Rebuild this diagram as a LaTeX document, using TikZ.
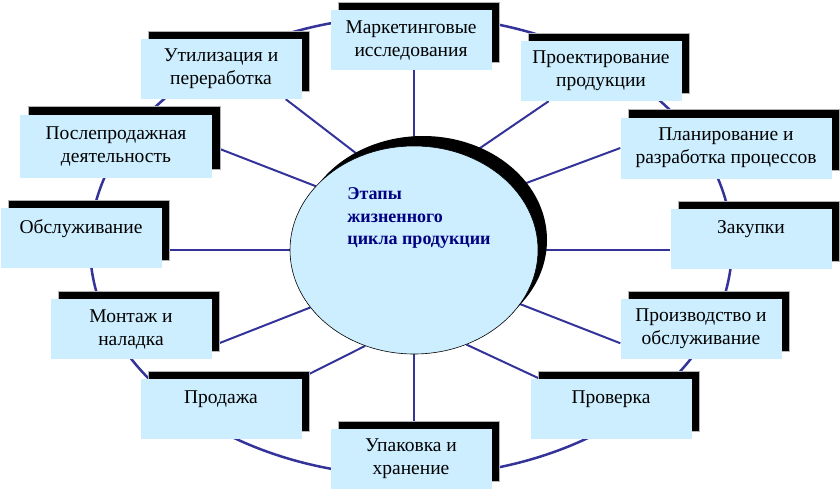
\documentclass[tikz,border=0pt]{standalone}
\usepackage{fontspec}
\setmainfont{Liberation Serif}
\usetikzlibrary{shapes.geometric,shadows,backgrounds}
\definecolor{cellblue}{RGB}{204,238,255}
\definecolor{ringblue}{RGB}{51,51,153}
\definecolor{hubnavy}{RGB}{0,0,128}

\begin{document}
\begin{tikzpicture}[x=1pt,y=-1pt,
  stage/.style={rectangle,fill=cellblue,minimum width=161pt,minimum height=60pt,
    inner sep=0pt,align=center,font=\fontsize{19.5}{23}\selectfont,
    drop shadow={shadow xshift=8pt,shadow yshift=8pt,opacity=1,fill=black,draw=gray!60,line width=.6pt}},
  spoke/.style={draw=ringblue,line width=2pt},
  ring/.style={draw=ringblue,line width=2.5pt}]
\useasboundingbox (0,0) rectangle (840,490);

% centre
\node[ellipse,fill=cellblue,draw=black,line width=.6pt,minimum width=248pt,minimum height=208pt,inner sep=0pt,
  drop shadow={shadow xshift=9pt,shadow yshift=10pt,opacity=1,fill=black}] (hub) at (414,250) {};
\node[font=\bfseries\fontsize{18}{22.5}\selectfont,text=hubnavy,align=left,inner sep=0pt] (title)
  at ([xshift=5pt,yshift=32pt]hub.center) {Этапы\\жизненного\\цикла продукции};

% stages
\node[stage] (mark) at (411,40) {Маркетинговые\\исследования};
\node[stage] (proj) at (601,71) {Проектирование\\продукции};
\node[stage] (util) at (221,69) {Утилизация и\\переработка};
\node[stage,minimum width=192pt,minimum height=63pt] (posl) at (116,146) {Послепродажная\\деятельность};
\node[stage,minimum width=211pt,minimum height=61pt] (plan) at (726,148) {Планирование и\\разработка процессов};
\node[stage] (obsl) at (81,238) {Обслуживание\\\mbox{}};
\node[stage] (zak) at (751,239) {Закупки\\\mbox{}};
\node[stage] (mont) at (131,329) {Монтаж и\\наладка};
\node[stage] (proizv) at (701,329) {Производство и\\обслуживание};
\node[stage] (prod) at (221,409) {Продажа\\\mbox{}};
\node[stage] (prov) at (611,409) {Проверка\\\mbox{}};
\node[stage] (upak) at (411,459) {Упаковка и\\хранение};

\begin{scope}[on background layer]
\draw[ring] (411,246) ellipse [x radius=321,y radius=230];
\draw[spoke] (hub.north) -- (hub.north |- mark.south);
\draw[spoke] (hub.60) -- (proj.210);
\draw[spoke] (hub.32) -- (plan.west);
\draw[spoke] (hub.east) -- (hub.east -| zak.west);
\draw[spoke] (hub.333) -- (proizv.190);
\draw[spoke] (hub.299) -- (prov.157);
\draw[spoke] (hub.south) -- (hub.south |- upak.north);
\draw[spoke] (hub.243) -- (prod.21);
\draw[spoke] (hub.209) -- (mont.348);
\draw[spoke] (hub.west) -- (hub.west -| obsl.east);
\draw[spoke] (hub.147) -- (posl.east);
\draw[spoke] (hub.120) -- (util.335);
\end{scope}
\end{tikzpicture}
\end{document}
